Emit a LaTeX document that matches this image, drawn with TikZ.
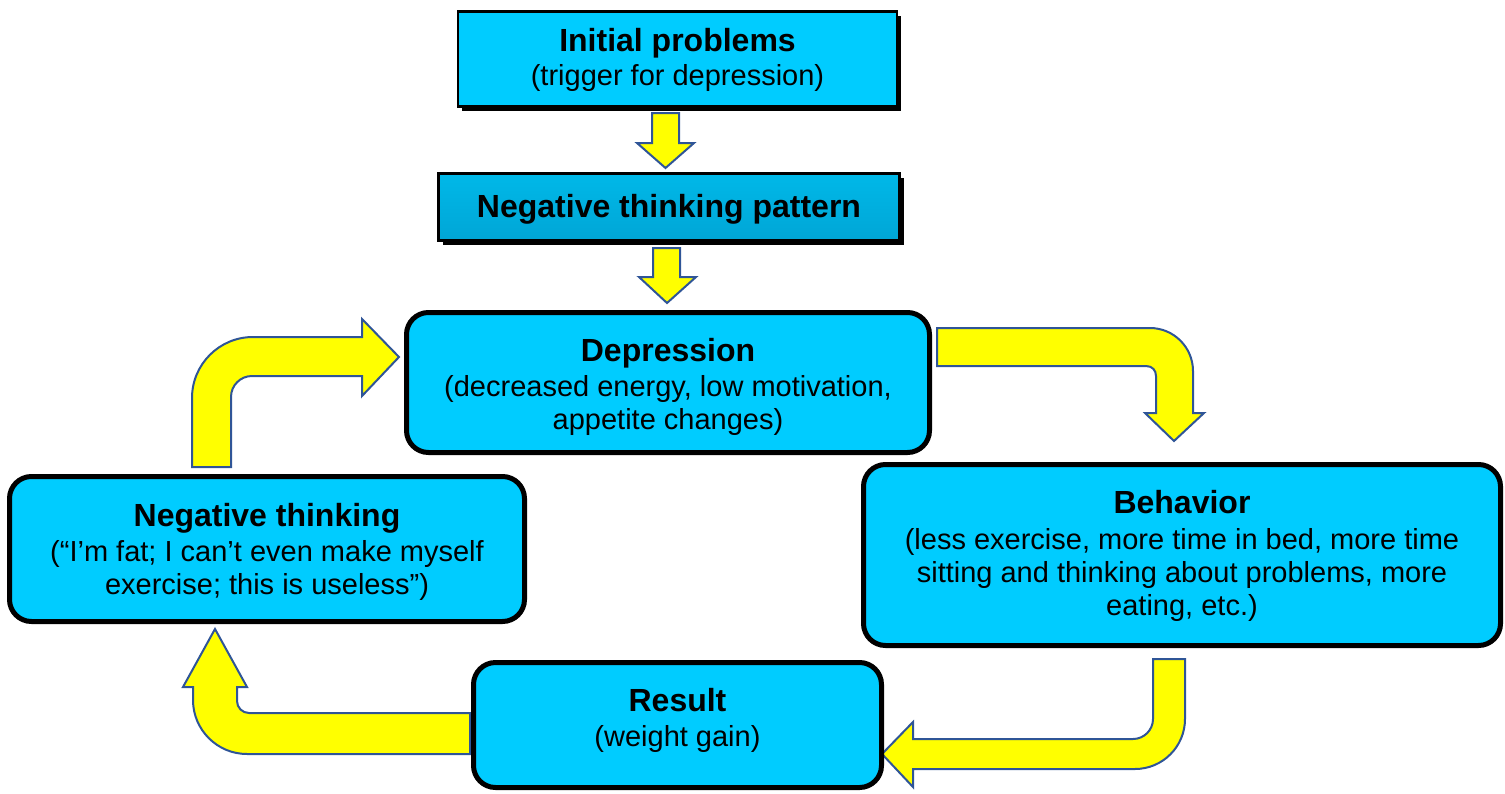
\documentclass[tikz,border=0pt]{standalone}
\usepackage{fontspec}
\setmainfont{Liberation Sans}
\usetikzlibrary{shadows}
\definecolor{boxcyan}{HTML}{00CCFF}
\definecolor{boxcyantop}{HTML}{00B8E8}
\definecolor{boxcyanbottom}{HTML}{00A6D6}
\definecolor{arrowyellow}{HTML}{FFFF00}
\definecolor{arrowedge}{HTML}{2F5597}
\newcommand\boxhead[1]{{\bfseries\fontsize{32}{37}\selectfont #1}}
\begin{document}
\begin{tikzpicture}[x=1pt,y=-1pt,
  roundbox/.style={draw=black, line width=5pt, fill=boxcyan, rounded corners=22pt, inner sep=0pt},
  squarebox/.style={draw=black, line width=2.5pt, inner sep=0pt,
    drop shadow={shadow xshift=4pt, shadow yshift=-4pt, fill=black, opacity=1}},
  boxtext/.style={align=center, inner sep=0pt, font=\fontsize{29}{33}\selectfont},
  blockarrow/.style={fill=arrowyellow, draw=arrowedge, line width=2pt, line join=miter},
]
\useasboundingbox (0,0) rectangle (1505,793);

% ---- block arrows ----
% initial problems -> negative thinking pattern
\draw[blockarrow] (652,113) -- (679,113) -- (679,143) -- (694,143) -- (665.5,168)
  -- (637,143) -- (652,143) -- cycle;
% negative thinking pattern -> depression
\draw[blockarrow] (653,248) -- (680,248) -- (680,277) -- (696,277) -- (667,303)
  -- (639,277) -- (653,277) -- cycle;
% negative thinking -> depression (up, then right)
\draw[blockarrow] (192,467) -- (192,398) .. controls (192,364.3) and (219.3,337) .. (253,337)
  -- (362,337) -- (362,319) -- (399,357) -- (362,396) -- (362,376) -- (252,376)
  .. controls (240.4,376) and (231,385.4) .. (231,397) -- (231,467) -- cycle;
% depression -> behavior (right, then down)
\draw[blockarrow] (937,328) -- (1150,328) .. controls (1173.7,328) and (1193,347.3) .. (1193,371)
  -- (1193,413) -- (1204,413) -- (1174,441) -- (1145,413) -- (1156,413) -- (1156,376)
  .. controls (1156,370.5) and (1152.5,366) .. (1146,366) -- (937,366) -- cycle;
% behavior -> result (down, then left)
\draw[blockarrow] (1153,659) -- (1185,659) -- (1185,719) .. controls (1185,746.6) and (1162.6,769) .. (1135,769)
  -- (913,769) -- (913,787) -- (882,754) -- (913,722) -- (913,739) -- (1133,739)
  .. controls (1144,739) and (1153,730) .. (1153,719) -- cycle;
% result -> negative thinking (left, then up)
\draw[blockarrow] (470,713) -- (470,754) -- (247,754) .. controls (217.2,754) and (193,729.8) .. (193,700)
  -- (193,687) -- (183,687) -- (215,629) -- (247,687) -- (237,687) -- (237,701)
  .. controls (237,707.6) and (242.4,713) .. (249,713) -- cycle;

% ---- boxes ----
\node[squarebox, fill=boxcyan, minimum width=439pt, minimum height=95pt] (init) at (677.5,59) {};
\node[squarebox, top color=boxcyantop, middle color=boxcyan, bottom color=boxcyanbottom,
  minimum width=461pt, minimum height=67pt] (ntp) at (669,207) {};
\node[roundbox, minimum width=523pt, minimum height=140pt] (dep) at (668,382.5) {};
\node[roundbox, minimum width=515pt, minimum height=145pt] (nt) at (267,549) {};
\node[roundbox, minimum width=637pt, minimum height=181pt] (beh) at (1182,555) {};
\node[roundbox, minimum width=408pt, minimum height=125pt] (res) at (677.5,725) {};

% ---- box texts ----
\node[boxtext] (init-text) at ([yshift=-1pt]init.center)
  {\boxhead{Initial problems}\\[1pt](trigger for depression)};
\node[boxtext] (ntp-text) at ([yshift=-2pt]ntp.center) {\boxhead{Negative thinking pattern}};
\node[boxtext] (dep-text) at ([yshift=-4pt]dep.center)
  {\boxhead{Depression}\\[2pt](decreased energy, low motivation,\\appetite changes)};
\node[boxtext] (nt-text) at ([yshift=-3pt]nt.center)
  {\boxhead{Negative thinking}\\[2pt](“I’m fat; I can’t even make myself\\exercise; this is useless”)};
\node[boxtext] (beh-text) at ([yshift=-1pt]beh.center)
  {\boxhead{Behavior}\\[3pt](less exercise, more time in bed, more time\\sitting and thinking about problems, more\\eating, etc.)};
\node[boxtext] (res-text) at ([yshift=5pt]res.center)
  {\boxhead{Result}\\[2pt](weight gain)};
\end{tikzpicture}
\end{document}
